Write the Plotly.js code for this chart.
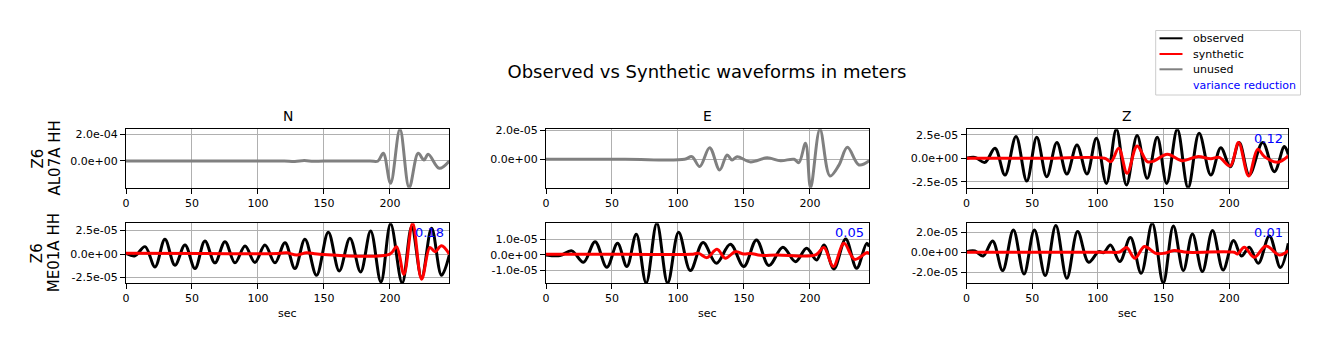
<!DOCTYPE html>
<html>
<head>
<meta charset="utf-8">
<script src="https://cdn.plot.ly/plotly-3.0.1.min.js"></script>
<style>html,body{margin:0;padding:0;background:#fff;}#plot{width:1329px;height:351px;}</style>
</head>
<body>
<div id="plot"></div>
<script>
// ---------------- DATA (amplitudes in units of 1e-5 m, times in sec) ----------------
const components = ["N", "E", "Z"];
const stationNet = ["Z6", "Z6"];
const stationName = ["AL07A HH", "ME01A HH"];
const xTickVals = [0, 50, 100, 150, 200];
const xTickText = ["0", "50", "100", "150", "200"];
const legendNames = ["observed", "synthetic", "unused", "variance reduction"];
const legendColors = ["black", "red", "#808080", "#0000ff"];

// AL07A N (unused)
const t_AL07A_N = [0, 60, 110, 120, 128, 135, 142, 150, 185, 191, 195, 200.5, 207.6, 214.6, 221.4, 225.8, 229, 237.4, 245];
const u_AL07A_N = [0, 0, 0, 0, -0.4, 0.3, -0.2, 0, 0, 0, 5.8, -16.7, 23.7, -20.0, 5.8, 0.7, 5.0, -5.5, 0];
// AL07A E (unused)
const t_AL07A_E = [0, 60, 105, 110.6, 116.5, 124, 131.6, 137.2, 141, 144.8, 155, 167.6, 177.7, 188, 191.6, 196.7, 200.5, 207.6, 215.2, 222, 228.4, 237.2, 245];
const u_AL07A_E = [0, 0, 0, 0.18, -0.5, 0.8, -0.74, 0.3, -0.05, 0.18, -0.18, 0.1, -0.1, 0, -0.23, 1.1, -1.96, 2.07, -1.15, -0.4, 0.83, -0.39, -0.1];
// AL07A Z
const t_AL07A_Z_obs = [0, 6.4, 14, 21.7, 29.3, 37.7, 45.9, 53.5, 61.1, 68.8, 76.4, 84.1, 91.7, 98.9, 106.5, 114.1, 121.8, 129.9, 137.6, 145.2, 152.4, 160.5, 168.7, 177.1, 186, 193.6, 200.8, 207.6, 215.3, 225.5, 234.4, 242, 245];
const o_AL07A_Z = [0, 0.1, -0.43, 1.07, -1.79, 2.32, -2.43, 2.25, -1.96, 1.68, -1.68, 1.43, -1.68, 2.14, -2.68, 3.1, -2.86, 2.43, -2.14, 2.25, -2.68, 3.1, -3.14, 2.68, -1.79, 1.14, -0.89, 1.68, -1.79, 1.68, -1.43, 1.25, 0.4];
const t_AL07A_Z_syn = [0, 60, 105, 110, 115.9, 122.3, 129.9, 137.6, 142.7, 152.9, 164.3, 175.8, 186, 192.4, 200.8, 207.1, 214.8, 221.7, 226.8, 237, 245];
const s_AL07A_Z = [0, 0, 0, -0.36, 1.07, -1.6, 1.32, -0.36, -0.29, 0.43, -0.25, 0.18, -0.04, 0.1, -0.82, 1.68, -1.89, 0.96, 0.18, -0.43, 0.25];
// ME01A N
const t_ME01A_N_obs = [0, 6.8, 14.4, 22, 29.5, 37.1, 44.7, 52.3, 59.8, 67.4, 75, 82.6, 90.2, 97.7, 105.3, 112.9, 120.5, 128, 135.6, 144.4, 153.3, 161.6, 169.7, 177.8, 185.4, 193.2, 200.5, 209.3, 216.5, 224, 231.6, 239.1, 245];
const o_ME01A_N = [0.07, -0.18, 0.79, -1.36, 1.57, -1.18, 0.96, -1.54, 1.39, -0.93, 1.32, -0.93, 0.86, -0.89, 0.96, -0.93, 1.21, -1.54, 1.57, -2.25, 2.32, -1.79, 1.68, -1.89, 2.46, -2.96, 3.21, -3.07, 2.9, -2.5, 2.75, -2.25, -0.1];
const t_ME01A_N_syn = [0, 60, 115, 121.7, 129.3, 136.9, 145, 200, 205, 210.6, 217.2, 224, 230.3, 234.1, 239.1, 245];
const s_ME01A_N = [0.1, 0.05, 0.05, 0.14, -0.1, 0.14, 0, 0, 0.79, -2.14, 3.27, -2.68, 0.71, 0.25, 0.89, 0];
// ME01A E
const t_ME01A_E_obs = [0, 10.6, 19.5, 28.4, 37.2, 46.1, 54.2, 61.3, 68.4, 75.9, 84, 92.2, 100.5, 109.4, 119, 129.1, 139.7, 149.9, 159.5, 168.9, 179.5, 189.1, 197.5, 205.1, 210.6, 218.2, 227.1, 235.4, 243, 245];
const o_ME01A_E = [0, -0.04, 0.26, -0.47, 0.85, -0.79, 0.74, -0.74, 1.32, -1.79, 2.02, -1.79, 1.45, -1.0, 0.79, -0.53, 0.68, -0.74, 0.96, -0.68, 0.49, -0.43, 0.43, -0.32, 0.64, -0.89, 1.02, -0.85, 0.74, 0.53];
const t_ME01A_E_syn = [0, 60, 110, 115.7, 122, 129.6, 135.9, 143.5, 149.9, 155, 162.5, 175, 204.3, 210.6, 217.7, 225.8, 233.9, 243.5, 245];
const s_ME01A_E = [0.04, 0.04, 0.04, 0.1, -0.17, 0.36, -0.21, 0.21, 0.06, 0.1, -0.02, 0, 0, 0.47, -0.74, 0.74, -0.28, 0.15, 0.04];
// ME01A Z
const t_ME01A_Z_obs = [0, 6.4, 12.7, 19.9, 27.5, 35.7, 43.8, 51.7, 59.9, 68, 76.4, 84.6, 93, 100.6, 104.5, 109.6, 116.7, 124.8, 133, 141.4, 149.8, 157.5, 165.1, 172, 179.6, 187.3, 195.4, 203.3, 209.4, 215.3, 222.2, 230.6, 239, 245];
const o_ME01A_Z = [0.07, 0.13, -0.37, 1.13, -1.83, 2.23, -2.17, 2.23, -2.33, 2.67, -2.6, 2.07, -1.0, 0.07, -0.03, 0.73, -0.93, 1.47, -2.1, 2.9, -3.07, 2.63, -1.83, 1.83, -1.93, 2.17, -1.77, 1.17, -0.37, 0.5, -1.1, 1.63, -1.53, 0.9];
const t_ME01A_Z_syn = [0, 60, 110, 116.7, 121.8, 128.2, 135.5, 143.9, 150.3, 158, 168.2, 203.8, 206.4, 211.5, 219.1, 228, 238.2, 245];
const s_ME01A_Z = [0, 0, 0, 0.03, 0.47, -0.6, 0.57, -0.1, -0.1, 0.17, 0, 0, -0.17, 0.5, -0.5, 0.63, -0.27, 0.17];

// variance reduction labels (Z of AL07A; N, E, Z of ME01A)
const vrLabels = ["0.12", "0.18", "0.05", "0.01"];

// y tick values (m) and labels per panel
const yTicks = [
  {vals: [0, 2e-4], text: ["0.0e+00", "2.0e-04"]},
  {vals: [0, 2e-5], text: ["0.0e+00", "2.0e-05"]},
  {vals: [-2.5e-5, 0, 2.5e-5], text: ["-2.5e-05", "0.0e+00", "2.5e-05"]},
  {vals: [-2.5e-5, 0, 2.5e-5], text: ["-2.5e-05", "0.0e+00", "2.5e-05"]},
  {vals: [-1e-5, 0, 1e-5], text: ["-1.0e-05", "0.0e+00", "1.0e-05"]},
  {vals: [-2e-5, 0, 2e-5], text: ["-2.0e-05", "0.0e+00", "2.0e-05"]}
];
const UNIT = 1e-5;

// ---------------- FIGURE ----------------
const W = 1329, H = 351;
const colX = [[126, 449.3], [546, 869.3], [966.5, 1288.3]];
const rowY = [[129.3, 187.7], [223.3, 283]];
const fx = p => p / W;
const fy = p => 1 - p / H;
const FONT = "DejaVu Sans, sans-serif";
const LW = 3;

const toM = a => a.map(v => v * UNIT);

const panels = [
  {unused: [t_AL07A_N, u_AL07A_N]},
  {unused: [t_AL07A_E, u_AL07A_E]},
  {obs: [t_AL07A_Z_obs, o_AL07A_Z], syn: [t_AL07A_Z_syn, s_AL07A_Z], vr: vrLabels[0]},
  {obs: [t_ME01A_N_obs, o_ME01A_N], syn: [t_ME01A_N_syn, s_ME01A_N], vr: vrLabels[1]},
  {obs: [t_ME01A_E_obs, o_ME01A_E], syn: [t_ME01A_E_syn, s_ME01A_E], vr: vrLabels[2]},
  {obs: [t_ME01A_Z_obs, o_ME01A_Z], syn: [t_ME01A_Z_syn, s_ME01A_Z], vr: vrLabels[3]}
];

const traces = [];
const layout = {
  width: W, height: H,
  margin: {l: 0, r: 0, t: 0, b: 0},
  paper_bgcolor: "white", plot_bgcolor: "white",
  showlegend: false,
  font: {family: FONT, color: "black"},
  title: {text: "Observed vs Synthetic waveforms in meters", x: fx(707), y: fy(71.5), xanchor: "center", yanchor: "middle", font: {size: 18, family: FONT, color: "black"}},
  annotations: [],
  shapes: []
};

panels.forEach((p, i) => {
  const r = Math.floor(i / 3), c = i % 3;
  const n = i + 1;
  const xa = n === 1 ? "x" : "x" + n;
  const ya = n === 1 ? "y" : "y" + n;
  let all = [];
  if (p.unused) {
    all = all.concat(p.unused[1]);
    traces.push({x: p.unused[0], y: toM(p.unused[1]), xaxis: xa, yaxis: ya, mode: "lines", type: "scatter",
      line: {color: "#808080", width: LW, shape: "spline", smoothing: 1}, name: "unused", hoverinfo: "skip"});
  }
  if (p.obs) {
    all = all.concat(p.obs[1]);
    traces.push({x: p.obs[0], y: toM(p.obs[1]), xaxis: xa, yaxis: ya, mode: "lines", type: "scatter",
      line: {color: "black", width: LW, shape: "spline", smoothing: 1}, name: "observed", hoverinfo: "skip"});
  }
  if (p.syn) {
    all = all.concat(p.syn[1]);
    traces.push({x: p.syn[0], y: toM(p.syn[1]), xaxis: xa, yaxis: ya, mode: "lines", type: "scatter",
      line: {color: "red", width: LW, shape: "spline", smoothing: 1}, name: "synthetic", hoverinfo: "skip"});
  }
  const ymin = Math.min(...all) * UNIT, ymax = Math.max(...all) * UNIT;
  const common = {showgrid: true, gridcolor: "#b0b0b0", gridwidth: 1, showline: true, mirror: true, linecolor: "black",
    linewidth: 1, ticks: "outside", ticklen: 5, tickcolor: "black", tickwidth: 1, zeroline: false,
    tickfont: {size: 11, family: FONT, color: "black"}, fixedrange: true};
  layout["xaxis" + (n === 1 ? "" : n)] = Object.assign({}, common, {
    domain: [fx(colX[c][0]), fx(colX[c][1])], anchor: ya, range: [0, 245],
    tickmode: "array", tickvals: xTickVals, ticktext: xTickText});
  layout["yaxis" + (n === 1 ? "" : n)] = Object.assign({}, common, {
    domain: [fy(rowY[r][1]), fy(rowY[r][0])], anchor: xa, range: [ymin, ymax],
    tickmode: "array", tickvals: yTicks[i].vals, ticktext: yTicks[i].text});
  if (p.vr) {
    layout.annotations.push({text: p.vr, xref: xa + " domain", yref: ya + " domain", x: 0.99, y: 0.84,
      xanchor: "right", yanchor: "middle", showarrow: false, font: {size: 13, family: FONT, color: "#0000ff"}});
  }
  if (r === 1) {
    layout.annotations.push({text: "sec", xref: "paper", yref: "paper", x: fx((colX[c][0] + colX[c][1]) / 2), y: fy(313.5),
      xanchor: "center", yanchor: "middle", showarrow: false, font: {size: 11, family: FONT, color: "black"}});
  }
  if (r === 0) {
    layout.annotations.push({text: components[c], xref: "paper", yref: "paper", x: fx((colX[c][0] + colX[c][1]) / 2), y: fy(116),
      xanchor: "center", yanchor: "middle", showarrow: false, font: {size: 13.9, family: FONT, color: "black"}});
  }
});

// station labels (two lines, rotated)
[0, 1].forEach(r => {
  const yc = (rowY[r][0] + rowY[r][1]) / 2;
  layout.annotations.push({text: stationNet[r], xref: "paper", yref: "paper", x: fx(37), y: fy(yc), textangle: -90,
    xanchor: "center", yanchor: "middle", showarrow: false, font: {size: 15, family: FONT, color: "black"}});
  layout.annotations.push({text: stationName[r], xref: "paper", yref: "paper", x: fx(54), y: fy(yc), textangle: -90,
    xanchor: "center", yanchor: "middle", showarrow: false, font: {size: 15, family: FONT, color: "black"}});
});

// legend box (matplotlib style)
const legBox = {x0: 1155.7, x1: 1300.5, y0: 30.5, y1: 95};
const legRowY = [38.3, 54, 69.3, 85.3];
layout.shapes.push({type: "rect", xref: "paper", yref: "paper", x0: fx(legBox.x0), x1: fx(legBox.x1), y0: fy(legBox.y0), y1: fy(legBox.y1),
  line: {color: "#cccccc", width: 1}, fillcolor: "rgba(255,255,255,0.8)"});
legendNames.forEach((nm, k) => {
  if (k < 3) {
    layout.shapes.push({type: "line", xref: "paper", yref: "paper", x0: fx(1159.5), x1: fx(1182.5), y0: fy(legRowY[k]), y1: fy(legRowY[k]),
      line: {color: legendColors[k], width: 2}});
  }
  layout.annotations.push({text: nm, xref: "paper", yref: "paper", x: fx(1190.5), y: fy(legRowY[k]), xanchor: "left", yanchor: "middle",
    showarrow: false, font: {size: 11, family: FONT, color: k < 3 ? "black" : legendColors[k]}});
});

Plotly.newPlot("plot", traces, layout, {staticPlot: true, displayModeBar: false});
</script>
</body>
</html>
